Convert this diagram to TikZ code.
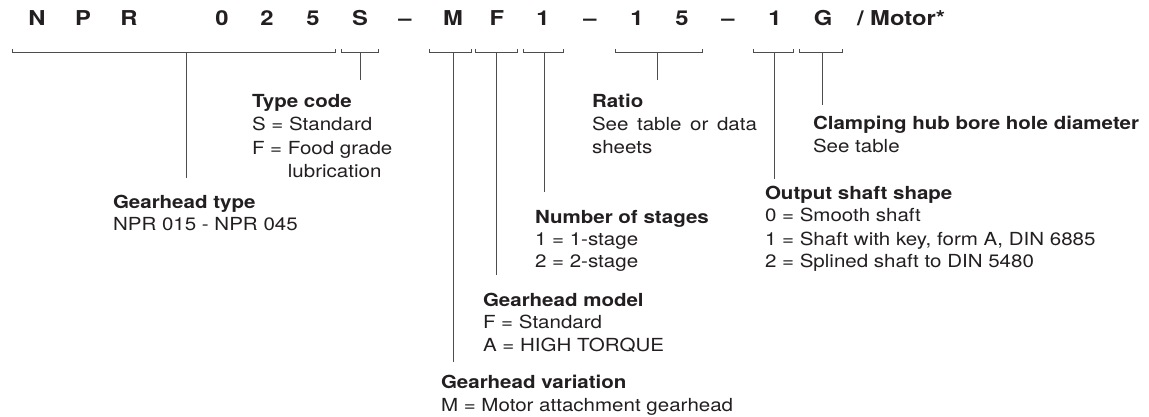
\documentclass[tikz,border=0pt]{standalone}
\usepackage{graphicx}
\usepackage{fontspec}
\setmainfont{TeX Gyre Heros}
\newcommand\wx[1]{\scalebox{1.14}[1]{#1}}
\newcommand\wc[1]{\scalebox{1.16}[1]{#1}}
\definecolor{ink}{HTML}{231F20}
\definecolor{rulec}{HTML}{4D4D4D}
\begin{document}
\begin{tikzpicture}[x=1pt,y=-1pt,
  body/.style={anchor=base west, inner sep=0pt, outer sep=0pt, text=ink, font=\fontsize{18}{22}\selectfont},
  head/.style={body, font=\bfseries\fontsize{18}{22}\selectfont},
  code/.style={anchor=base, inner sep=0pt, outer sep=0pt, text=ink, font=\bfseries\fontsize{20.5}{24}\selectfont},
  brk/.style={draw=rulec, line width=0.9pt},
  stem/.style={draw=rulec, line width=0.9pt}]
\useasboundingbox (0,0) rectangle (1149,417);

% ---- code row ----
\node[code] (cN) at (37,26) {\wc{N}};
\node[code] (cP) at (83,26) {\wc{P}};
\node[code] (cR) at (129,26) {\wc{R}};
\node[code] (c0) at (222,26) {\wc{0}};
\node[code] (c2) at (267,26) {\wc{2}};
\node[code] (c5) at (313,26) {\wc{5}};
\node[code] (cS) at (360,26) {\wc{S}};
\node[code] (d1) at (405,26) {\wc{–}};
\node[code] (cM) at (453,26) {\wc{M}};
\node[code] (cF) at (497,26) {\wc{F}};
\node[code] (c1) at (543,26) {\wc{1}};
\node[code] (d2) at (590,26) {\wc{–}};
\node[code] (c1b) at (637,26) {\wc{1}};
\node[code] (c5b) at (682,26) {\wc{5}};
\node[code] (d3) at (728,26) {\wc{–}};
\node[code] (c1c) at (775,26) {\wc{1}};
\node[code] (cG) at (823,26) {\wc{G}};
\node[code, anchor=base west] (cMot) at (857,26) {\wc{/ Motor*}};

% ---- brackets ----
\draw[brk] (12,49) -- (12,52.5) -- (335,52.5) -- (335,49);
\draw[brk] (341,49) -- (341,52.5) -- (378,52.5) -- (378,49);
\draw[brk] (429,49) -- (429,52.5) -- (471,52.5) -- (471,49);
\draw[brk] (475,49) -- (475,52.5) -- (517,52.5) -- (517,49);
\draw[brk] (523,49) -- (523,52.5) -- (563,52.5) -- (563,49);
\draw[brk] (615,49) -- (615,52.5) -- (702,52.5) -- (702,49);
\draw[brk] (753,49) -- (753,52.5) -- (793,52.5) -- (793,49);
\draw[brk] (799,49) -- (799,52.5) -- (842,52.5) -- (842,49);

% ---- stems ----
\coordinate (s1) at (186,52.5); \coordinate (t1) at (186,178);
\coordinate (s2) at (360,52.5); \coordinate (t2) at (360,80);
\coordinate (s3) at (453,52.5); \coordinate (t3) at (453,362);
\coordinate (s4) at (496,52.5); \coordinate (t4) at (496,275);
\coordinate (s5) at (544,52.5); \coordinate (t5) at (544,192);
\coordinate (s6) at (657,52.5); \coordinate (t6) at (657,80);
\coordinate (s7) at (774,52.5); \coordinate (t7) at (774,179);
\coordinate (s8) at (822,52.5); \coordinate (t8) at (822,105);
\draw[stem] (s1) -- (t1);
\draw[stem] (s2) -- (t2);
\draw[stem] (s3) -- (t3);
\draw[stem] (s4) -- (t4);
\draw[stem] (s5) -- (t5);
\draw[stem] (s6) -- (t6);
\draw[stem] (s7) -- (t7);
\draw[stem] (s8) -- (t8);

% ---- Type code ----
\node[head] (tc0) at (252,108) {\wx{Type code}};
\node[body] (tc1) at (252,131) {\wx{S = Standard}};
\node[body] (tc2) at (252,154.5) {\wx{F = Food grade}};
\node[body] (tc3) at (252,177.5) {\wx{\phantom{F = }lubrication}};

% ---- Gearhead type ----
\node[head] (gt0) at (113,208) {\wx{Gearhead type}};
\node[body] (gt1) at (113,230.5) {\wx{NPR 015 - NPR 045}};

% ---- Ratio ----
\node[head] (ra0) at (592,108) {\wx{Ratio}};
\node[body] (ra1) at (592,131) {\wx{\makebox[144.7pt][s]{See table or data}}};
\node[body] (ra2) at (592,154) {\wx{sheets}};

% ---- Clamping hub ----
\node[head] (ch0) at (813,130) {\wx{Clamping hub bore hole diameter}};
\node[body] (ch1) at (813,153) {\wx{See table}};

% ---- Output shaft shape ----
\node[head] (os0) at (765,199) {\wx{Output shaft shape}};
\node[body] (os1) at (765,222) {\wx{0 = Smooth shaft}};
\node[body] (os2) at (765,245) {\wx{1 = Shaft with key, form A, DIN 6885}};
\node[body] (os3) at (765,267.5) {\wx{2 = Splined shaft to DIN 5480}};

% ---- Number of stages ----
\node[head] (ns0) at (535,223) {\wx{Number of stages}};
\node[body] (ns1) at (535,245) {\wx{1 = 1-stage}};
\node[body] (ns2) at (535,267.5) {\wx{2 = 2-stage}};

% ---- Gearhead model ----
\node[head] (gm0) at (483,306) {\wx{Gearhead model}};
\node[body] (gm1) at (483,328.5) {\wx{F = Standard}};
\node[body] (gm2) at (483,351) {\wx{A = HIGH TORQUE}};

% ---- Gearhead variation ----
\node[head] (gv0) at (441,388) {\wx{Gearhead variation}};
\node[body] (gv1) at (441,411) {\wx{M = Motor attachment gearhead}};
\end{tikzpicture}
\end{document}
